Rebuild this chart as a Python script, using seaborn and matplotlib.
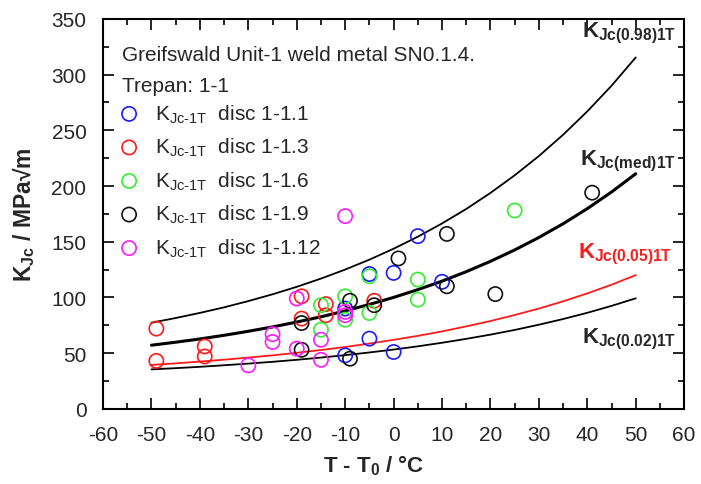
"""K_Jc vs T - T0 for Greifswald Unit-1 weld metal, trepan 1-1, with master curve bounds."""

import matplotlib

matplotlib.use("Agg")
import matplotlib.pyplot as plt
import pandas as pd
import seaborn as sns
from matplotlib.ticker import MultipleLocator

# measured K_Jc-1T (MPa sqrt m) against T - T0 (degC), one pair per disc
disc_1_1_dt = [-10, -10, -5, -5, 0, 0, 5, 10]
disc_1_1_k = [90, 48, 121, 63, 122, 51, 155, 114]

disc_1_3_dt = [-49, -49, -39, -39, -19, -19, -14, -14, -4]
disc_1_3_k = [72, 43, 56, 47, 101, 81, 94, 84, 97]

disc_1_6_dt = [-15, -15, -10, -10, -5, -5, 5, 5, 25]
disc_1_6_k = [93, 71, 101, 80, 119, 86, 116, 98, 178]

disc_1_9_dt = [-19, -19, -9, -9, -4, 1, 11, 11, 21, 41]
disc_1_9_k = [77, 53, 97, 45, 93, 135, 157, 110, 103, 194]

disc_1_12_dt = [-30, -25, -25, -20, -20, -15, -15, -10, -10, -10]
disc_1_12_k = [39, 67, 60, 99, 54, 62, 44, 173, 87, 84]

disc_names = ["1-1.1", "1-1.3", "1-1.6", "1-1.9", "1-1.12"]

# tolerance bounds every 5 degC
curve_dt = [-50, -45, -40, -35, -30, -25, -20, -15, -10, -5, 0,
            5, 10, 15, 20, 25, 30, 35, 40, 45, 50]
k_098 = [77.3, 81.5, 86.1, 91.1, 96.7, 102.8, 109.5, 116.9, 125.0, 133.9, 143.7,
         154.5, 166.4, 179.4, 193.8, 209.6, 226.9, 246.0, 267.0, 290.0, 315.4]
k_med = [57.1, 59.8, 62.7, 66.0, 69.6, 73.5, 77.9, 82.6, 87.9, 93.7, 100.0,
         107.0, 114.6, 123.1, 132.4, 142.6, 153.8, 166.1, 179.7, 194.6, 211.0]
k_005 = [39.4, 40.8, 42.4, 44.1, 46.0, 48.0, 50.3, 52.8, 55.5, 58.6, 61.9,
         65.5, 69.5, 74.0, 78.8, 84.2, 90.0, 96.5, 103.6, 111.4, 120.0]
k_002 = [35.4, 36.5, 37.7, 39.1, 40.6, 42.2, 44.0, 46.0, 48.2, 50.6, 53.2,
         56.1, 59.3, 62.8, 66.6, 70.8, 75.5, 80.6, 86.2, 92.4, 99.2]

disc_colors = ["#1a1aff", "#ff1a1a", "#33ee33", "#111111", "#ff1aff"]

sns.set_theme(style="ticks")
plt.rcParams["font.family"] = ["Liberation Sans", "DejaVu Sans"]
plt.rcParams["mathtext.fontset"] = "custom"
plt.rcParams["mathtext.rm"] = "Liberation Sans"
plt.rcParams["mathtext.bf"] = "Liberation Sans:bold"
plt.rcParams["mathtext.default"] = "regular"
plt.rcParams["axes.unicode_minus"] = False

points = pd.concat(
    [
        pd.DataFrame({"dT": dt, "K": k, "disc": name})
        for dt, k, name in zip(
            [disc_1_1_dt, disc_1_3_dt, disc_1_6_dt, disc_1_9_dt, disc_1_12_dt],
            [disc_1_1_k, disc_1_3_k, disc_1_6_k, disc_1_9_k, disc_1_12_k],
            disc_names,
        )
    ],
    ignore_index=True,
)
curves = pd.DataFrame({"dT": curve_dt, "k098": k_098, "kmed": k_med, "k005": k_005, "k002": k_002})

fig = plt.figure(figsize=(7.01, 4.85), dpi=100)
ax = fig.add_axes([0.147, 0.155, 0.829, 0.804])

sns.lineplot(data=curves, x="dT", y="k098", color="black", linewidth=1.3, ax=ax, estimator=None, sort=False)
sns.lineplot(data=curves, x="dT", y="kmed", color="black", linewidth=2.2, ax=ax, estimator=None, sort=False)
sns.lineplot(data=curves, x="dT", y="k005", color="#ff1a1a", linewidth=1.3, ax=ax, estimator=None, sort=False)
sns.lineplot(data=curves, x="dT", y="k002", color="black", linewidth=1.3, ax=ax, estimator=None, sort=False)

for name, color in zip(disc_names, disc_colors):
    sub = points[points["disc"] == name]
    sns.scatterplot(
        data=sub, x="dT", y="K", ax=ax, marker="o", s=105,
        color=color, facecolors="none", edgecolor=color, linewidth=1.2,
        label=r"K$_{Jc\text{-}1T}$  disc " + name, zorder=3,
    )

ax.set_xlim(-60, 60)
ax.set_ylim(0, 350)
ax.xaxis.set_major_locator(MultipleLocator(10))
ax.xaxis.set_minor_locator(MultipleLocator(5))
ax.yaxis.set_major_locator(MultipleLocator(50))
ax.yaxis.set_minor_locator(MultipleLocator(25))
ax.tick_params(which="both", direction="in", top=True, right=True, width=1.2, color="black")
ax.tick_params(which="major", length=8, labelsize=15, pad=12)
ax.tick_params(which="minor", length=4.5)
for side in ax.spines.values():
    side.set_linewidth(1.5)
    side.set_color("black")

ax.set_xlabel(r"T - T$_\mathbf{0}$ / °C", fontsize=16, fontweight="bold")
ax.set_ylabel(r"K$_\mathbf{Jc}$ / MPa√m", fontsize=16.5, fontweight="bold")
ax.xaxis.set_label_coords(0.466, -0.112)
ax.yaxis.set_label_coords(-0.114, 0.5)

ax.text(0.033, 0.908, "Greifswald Unit-1 weld metal SN0.1.4.", transform=ax.transAxes,
        fontsize=15, va="center", ha="left")
ax.text(0.033, 0.828, "Trepan: 1-1", transform=ax.transAxes, fontsize=15, va="center", ha="left")

ax.legend(loc="upper left", bbox_to_anchor=(0.0, 0.826), frameon=False, fontsize=15,
          handletextpad=0.75, handlelength=1.0, labelspacing=0.54,
          borderaxespad=0, borderpad=0.75)

ax.text(39, 334, r"$\mathbf{K_{Jc(0.98)1T}}$", fontsize=16, ha="left", va="baseline")
ax.text(38.5, 219, r"$\mathbf{K_{Jc(med)1T}}$", fontsize=16, ha="left", va="baseline")
ax.text(38, 136, r"$\mathbf{K_{Jc(0.05)1T}}$", fontsize=16, ha="left", va="baseline", color="#ff1a1a")
ax.text(39, 60, r"$\mathbf{K_{Jc(0.02)1T}}$", fontsize=16, ha="left", va="baseline")

fig.savefig("out.png", dpi=100)
